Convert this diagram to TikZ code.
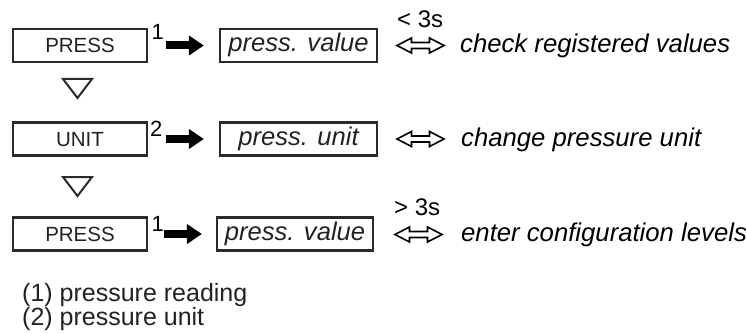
\documentclass[tikz,border=0pt]{standalone}
\usepackage{fontspec}
\setmainfont{Liberation Sans}
\usetikzlibrary{arrows.meta}
\definecolor{ink}{HTML}{222222}
\definecolor{boxc}{HTML}{2A2A2A}
\tikzset{
  box/.style={draw=boxc, line width=2.2pt, minimum height=33pt, inner sep=0pt, text=ink},
  keybox/.style={box, minimum width=134pt, font=\fontsize{20.5}{24}\selectfont, text height=14.6pt, text depth=0pt},
  valbox/.style={box, minimum width=157pt, font=\fontsize{25.6}{30}\selectfont\itshape, text height=13pt, text depth=0pt},
  bigarrow/.style={draw=black, line width=8pt, -{Triangle[length=15pt,width=19pt]}},
  supl/.style={font=\fontsize{22}{26}\selectfont, inner sep=0pt, anchor=base west, text=black},
  dblarrow/.style={draw=black, fill=white, line width=1.6pt, line join=miter},
  tlabel/.style={font=\fontsize{24}{28}\selectfont, inner sep=0pt, anchor=base west, text=black},
  desc/.style={font=\fontsize{25.7}{30}\selectfont\itshape, inner sep=0pt, anchor=base west, text=black},
  legend/.style={font=\fontsize{25}{30}\selectfont, inner sep=0pt, anchor=base west, text=ink},
  tri/.style={draw=boxc, line width=2pt, line join=miter}
}
\newcommand{\dblshape}[1]{%
  \draw[dblarrow, shift={(#1)}] (-23.5,0) -- (-9,-7.5) -- (-9,-3) -- (9,-3) -- (9,-7.5)
    -- (23.5,0) -- (9,7.5) -- (9,3) -- (-9,3) -- (-9,7.5) -- cycle;}
\begin{document}
\begin{tikzpicture}[x=1pt,y=-1pt]
\useasboundingbox (0,0) rectangle (746,334);
% row 1
\node[keybox] (k1) at (80,45.5) {PRESS};
\node[valbox] (v1) at (298.5,45.5) {press. value};
\node[supl] (s1) at (151.5,40) {1};
\draw[bigarrow, shorten <=18pt, shorten >=15pt] (k1.east) -- (v1.west);
\coordinate (d1) at (420.5,45.5);
\dblshape{d1}
\node[tlabel] (l1) at (397,28) {< 3s};
\node[desc] (t1) at (460,53) {check registered values};
% triangle 1
\draw[tri] (63,79) -- (92,79) -- (77.5,98) -- cycle;
% row 2
\node[keybox] (k2) at (80,139) {UNIT};
\node[valbox] (v2) at (298.5,139) {press. unit};
\node[supl] (s2) at (150,136) {2};
\draw[bigarrow, shorten <=18pt, shorten >=15pt] (k2.east) -- (v2.west);
\coordinate (d2) at (420.5,139);
\dblshape{d2}
\node[desc] (t2) at (461,146) {change pressure unit};
% triangle 2
\draw[tri] (63,177) -- (92,177) -- (77.5,196) -- cycle;
% row 3
\node[keybox] (k3) at (80,234) {PRESS};
\node[valbox, minimum width=156pt] (v3) at (295,234) {press. value};
\node[supl] (s3) at (151.5,231) {1};
\draw[bigarrow, shorten <=16pt, shorten >=14pt] (k3.east) -- (v3.west);
\coordinate (d3) at (418.5,234.5);
\dblshape{d3}
\node[tlabel] (l3) at (394,215) {> 3s};
\node[desc] (t3) at (461,241) {enter configuration levels};
% legend
\node[legend] (g1) at (22,301) {(1) pressure reading};
\node[legend] (g2) at (22,325) {(2) pressure unit};
\end{tikzpicture}
\end{document}
